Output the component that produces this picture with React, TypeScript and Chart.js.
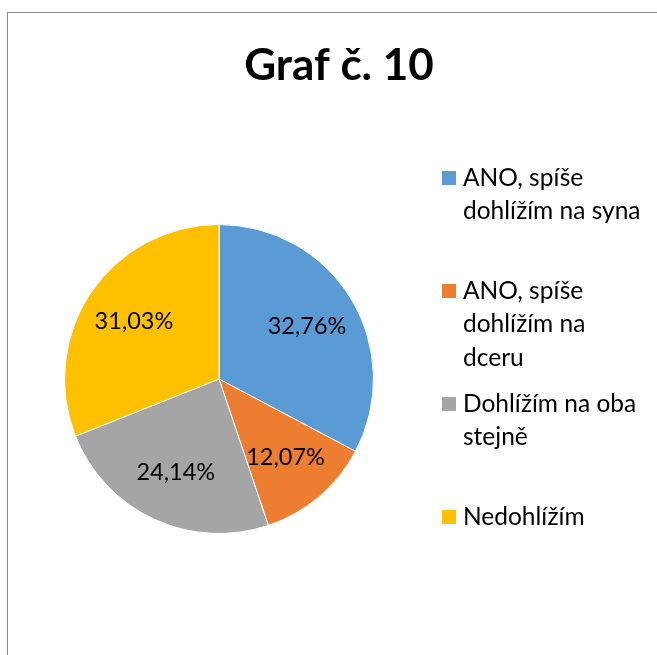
import React, { useEffect, useRef } from "react";
import { Chart, registerables } from "chart.js";

Chart.register(...registerables);

const titleText = "Graf č. 10";
const categories = [
  "ANO, spíše dohlížím na syna",
  "ANO, spíše dohlížím na dceru",
  "Dohlížím na oba stejně",
  "Nedohlížím",
];
const counts = [19, 7, 14, 18];
const percentLabels = ["32,76%", "12,07%", "24,14%", "31,03%"];
const sliceColors = ["#5B9BD5", "#ED7D31", "#A5A5A5", "#FFC000"];

const FONT = "Lato, 'Open Sans', sans-serif";
const LABEL_SIZE = 23.5;
const LEGEND_SIZE = 24.5;
const TITLE_SIZE = 44;

function wrapText(ctx: CanvasRenderingContext2D, text: string, maxW: number): string[] {
  const words = text.split(" ");
  const lines: string[] = [];
  let cur = "";
  for (const w of words) {
    const test = cur ? cur + " " + w : w;
    if (cur && ctx.measureText(test).width > maxW) {
      lines.push(cur);
      cur = w;
    } else {
      cur = test;
    }
  }
  if (cur) lines.push(cur);
  return lines;
}

const decorPlugin = {
  id: "decor",
  afterDraw(chart: any) {
    const ctx: CanvasRenderingContext2D = chart.ctx;
    const meta = chart.getDatasetMeta(0);
    ctx.save();
    // data labels
    ctx.font = `${LABEL_SIZE}px ${FONT}`;
    ctx.fillStyle = "#000";
    ctx.textAlign = "center";
    ctx.textBaseline = "middle";
    meta.data.forEach((arc: any, i: number) => {
      const p = arc.getProps(["x", "y", "startAngle", "endAngle", "outerRadius"], true);
      const mid = (p.startAngle + p.endAngle) / 2;
      const r = p.outerRadius * 0.665;
      ctx.fillText(percentLabels[i], p.x + Math.cos(mid) * r, p.y + Math.sin(mid) * r);
    });

    // title
    ctx.font = `bold ${TITLE_SIZE}px ${FONT}`;
    ctx.textAlign = "center";
    ctx.textBaseline = "alphabetic";
    ctx.fillText(titleText, 331, 67);

    // legend
    ctx.font = `${LEGEND_SIZE}px ${FONT}`;
    ctx.textAlign = "left";
    ctx.textBaseline = "middle";
    const top = 165;
    const step = 113;
    const lineH = 33.5;
    categories.forEach((c, i) => {
      const y0 = top + i * step;
      ctx.fillStyle = sliceColors[i];
      ctx.fillRect(434, y0 - 7, 14, 14);
      ctx.fillStyle = "#000";
      const lines = wrapText(ctx, c, 182);
      lines.forEach((ln, k) => ctx.fillText(ln, 455, y0 + k * lineH));
    });
    ctx.restore();
  },
};

export default function App() {
  const ref = useRef<HTMLCanvasElement>(null);
  useEffect(() => {
    if (!ref.current) return;
    const chart = new Chart(ref.current, {
      type: "pie",
      data: {
        labels: categories,
        datasets: [
          {
            data: counts,
            backgroundColor: sliceColors,
            borderColor: "#ffffff",
            borderWidth: 1,
          },
        ],
      },
      options: {
        responsive: false,
        animation: false,
        layout: { padding: { left: 56, right: 297, top: 211, bottom: 121 } },
        plugins: {
          legend: { display: false },
          title: { display: false },
          tooltip: { enabled: false },
        },
      },
      plugins: [decorPlugin],
    });
    return () => chart.destroy();
  }, []);

  return (
    <div
      style={{
        position: "fixed",
        left: 0,
        top: 0,
        width: 657,
        height: 655,
        overflow: "hidden",
        background: "#fff",
      }}
    >
      <div
        style={{
          position: "absolute",
          left: 7,
          top: 12,
          width: 720,
          height: 720,
          borderTop: "1px solid #898989",
          borderLeft: "1px solid #898989",
        }}
      >
        <canvas ref={ref} width={663} height={642} style={{ display: "block" }} />
      </div>
    </div>
  );
}
